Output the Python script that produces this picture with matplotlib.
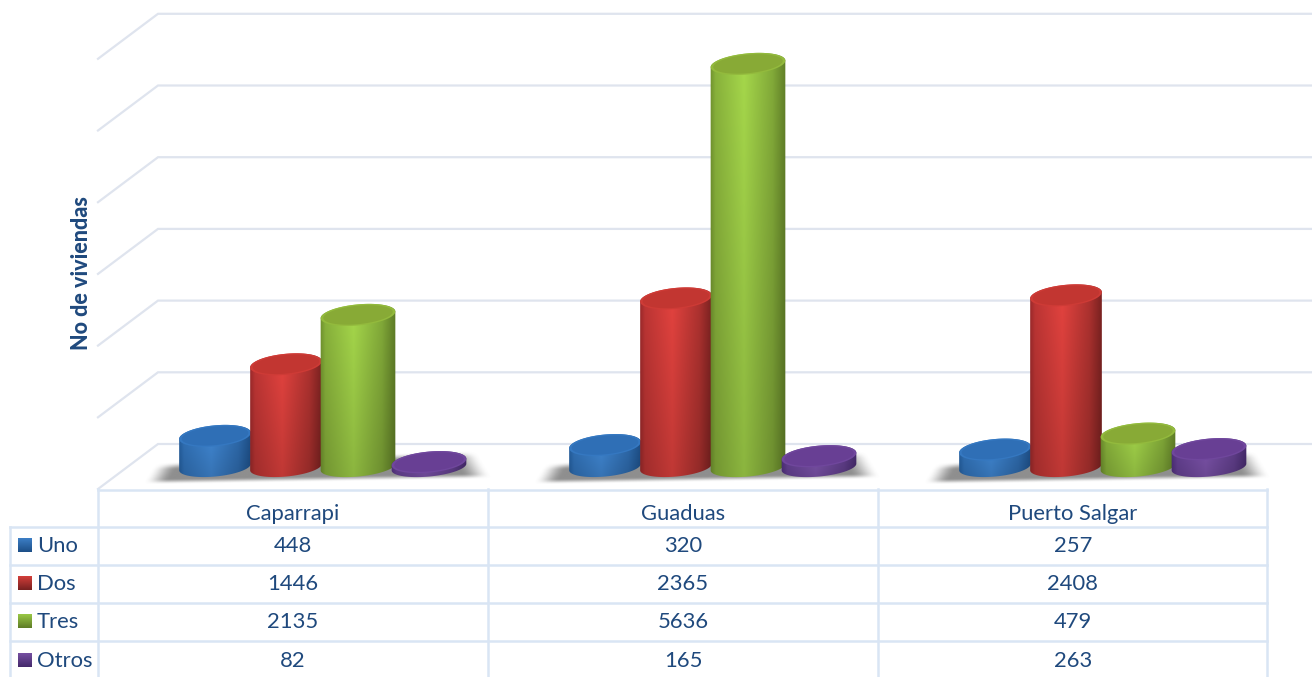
#!/usr/bin/env python3
"""Cylinder chart of dwellings per municipality, with a data table below."""

import numpy as np
import matplotlib
matplotlib.use('Agg')
import matplotlib.pyplot as plt
from matplotlib.colors import to_rgb
from matplotlib.patches import Polygon

municipios = ['Caparrapi', 'Guaduas', 'Puerto Salgar']
series = ['Uno', 'Dos', 'Tres', 'Otros']
uno = [448, 320, 257]
dos = [1446, 2365, 2408]
tres = [2135, 5636, 479]
otros = [82, 165, 263]
grid_values = [0, 1000, 2000, 3000, 4000, 5000, 6000]

TEXT = '#1f497d'
GRID = '#dfe4ee'
TABLE = '#d9e5f4'
# edge, highlight, far edge, top face
PALETTE = [
    ('#235e9f', '#4189d6', '#1d4f88', '#2f6fb6'),
    ('#98282a', '#e4433f', '#782120', '#c23631'),
    ('#6c8d2c', '#a6d84b', '#5f7d27', '#88aa36'),
    ('#50307e', '#7f55ae', '#452a6c', '#683f94'),
]

W, H = 1312, 677
BASE = 468          # pixel row of value 0 on the bar axis
SCALE = 0.0717      # pixels per dwelling
STEP = 390          # pixels between categories
FIRST = 286         # pixel column of the first category's centre


def px_x(p):
    return (np.asarray(p, dtype=float) - FIRST) / STEP


def px_y(p):
    return (BASE - np.asarray(p, dtype=float)) / SCALE


def ellipse(cx, cy, a, b, tilt=-5.5, start=0, stop=360):
    """Tilted ellipse outline in pixel space, returned in data coordinates."""
    t = np.radians(np.linspace(start, stop, 80))
    rot = np.radians(tilt)
    x = a * np.cos(t)
    y = b * np.sin(t)
    xr = cx + x * np.cos(rot) - y * np.sin(rot)
    yr = cy + x * np.sin(rot) + y * np.cos(rot)
    return np.column_stack([px_x(xr), px_y(yr)])


def cylinder(ax, cat, idx, value):
    """One shaded cylinder: gradient side, lit rim and darker top face."""
    edge, bright, far, top = [np.array(to_rgb(c)) for c in PALETTE[idx]]
    offset = [-71, 0, 72, 143][idx]
    cx = FIRST + STEP * cat + offset
    a = 36 if idx < 2 else 37.5
    top_y = BASE - value * SCALE
    base_y = BASE - 1

    # side is the lower half of both ellipses joined up
    lower = ellipse(cx, base_y, a, 9.5, start=0, stop=180)
    upper = ellipse(cx, top_y, a, 10.5, start=180, stop=360)
    clip = Polygon(np.vstack([lower, upper]), closed=True,
                   transform=ax.transData, facecolor='none', edgecolor='none')
    ax.add_patch(clip)

    u = np.linspace(0, 1, 90)
    ramp = np.empty((u.size, 3))
    for c in range(3):
        ramp[:, c] = np.interp(u, [0, 0.08, 0.45, 0.82, 1],
                               [edge[c], (edge[c] + bright[c]) / 2, bright[c],
                                (bright[c] + far[c]) / 2, far[c]])
    fade = np.linspace(1.0, 0.84, 60)[:, None, None]
    img = np.clip(ramp[None, :, :] * fade, 0, 1)
    extent = (px_x(cx - a - 1), px_x(cx + a + 1), px_y(base_y + 11), px_y(top_y - 11))
    im = ax.imshow(img, extent=extent, aspect='auto', zorder=3 + idx * 0.1,
                   interpolation='bilinear')
    im.set_clip_path(clip)

    rim = bright * 0.35 + top * 0.65
    ax.add_patch(Polygon(ellipse(cx, top_y, a, 10.5), closed=True, facecolor=rim,
                         edgecolor='none', zorder=3.01 + idx * 0.1))
    ax.add_patch(Polygon(ellipse(cx, top_y, a * 0.93, 9.2), closed=True, facecolor=top,
                         edgecolor='none', zorder=3.02 + idx * 0.1))


def smooth(v):
    v = np.clip(v, 0, 1)
    return v * v * (3 - 2 * v)


def shadow(ax, cat):
    """Blurred grey slanted shadow on the chart floor, built as an alpha image."""
    left = 142 + STEP * cat
    right = 500 + STEP * cat
    xs = np.linspace(left, right, 240)
    ys = np.linspace(444, 488, 70)
    xx, yy = np.meshgrid(xs, ys)
    t = (xx - left) / (right - left)
    top_edge = 466 - 14 * t
    low_edge = 483 - 6 * t
    slide = (483 - yy) * 0.6
    x_fade = smooth((xx - left - slide) / 26) * smooth((right - 4 - slide - xx) / 30)
    y_fade = smooth((yy - top_edge + 3) / 8) * smooth((low_edge + 2 - yy) / 6)
    rgba = np.zeros(xx.shape + (4,))
    rgba[..., :3] = 0.45
    rgba[..., 3] = 0.8 * x_fade * y_fade
    ax.imshow(rgba, extent=(px_x(left), px_x(right), px_y(488), px_y(444)),
              aspect='auto', zorder=2, interpolation='bilinear')


def swatch(ax, row_y, idx):
    edge, bright, far, top = [np.array(to_rgb(c)) for c in PALETTE[idx]]
    fade = np.linspace(0, 1, 20)[:, None, None]
    img = bright[None, None, :] * (1 - fade) * 0.92 + far[None, None, :] * fade
    ax.imshow(np.clip(img, 0, 1), extent=(px_x(18), px_x(32), px_y(row_y + 7), px_y(row_y - 7)),
              aspect='auto', zorder=4, interpolation='bilinear')


def main():
    plt.rcParams['font.family'] = ['Lato', 'DejaVu Sans']
    fig = plt.figure(figsize=(W / 100, H / 100), dpi=100, facecolor='white')
    ax = fig.add_axes([0, 0, 1, 1])

    # back wall and side wall grid, drawn on the value scale
    back_shift = 24 / SCALE
    side_drop = 45 / SCALE
    for v in grid_values:
        y = v + back_shift
        ax.plot(px_x([98, 158, W]), [y - side_drop, y, y], color=GRID, lw=1.6,
                solid_joinstyle='miter', zorder=1)

    for cat in range(len(municipios)):
        shadow(ax, cat)
    for cat in range(len(municipios)):
        for idx, vals in enumerate([uno, dos, tres, otros]):
            cylinder(ax, cat, idx, vals[cat])

    # data table
    col_x = [98, 488, 878, 1267]
    row_y = [527, 565, 603, 641]
    ax.plot(px_x([98, 1267]), px_y([489.5, 489.5]), color=TABLE, lw=1.8, zorder=1.5)
    for y in row_y:
        ax.plot(px_x([10, 1267]), px_y([y, y]), color=TABLE, lw=1.8, zorder=1.5)
    for x in col_x:
        ax.plot(px_x([x, x]), px_y([489, H]), color=TABLE, lw=1.8, zorder=1.5)
    ax.plot(px_x([10, 10]), px_y([527, H]), color=TABLE, lw=1.8, zorder=1.5)

    fs = 15.8
    centres = [293, 683, 1073]
    for x, name in zip(centres, municipios):
        ax.text(px_x(x), px_y(513.5), name, ha='center', va='center', color=TEXT, fontsize=fs)
    for i, (name, vals) in enumerate(zip(series, [uno, dos, tres, otros])):
        y = 545 + i * 38.2
        swatch(ax, y, i)
        ax.text(px_x(37), px_y(y + 1), name, ha='left', va='center', color=TEXT, fontsize=fs)
        for x, v in zip(centres, vals):
            ax.text(px_x(x), px_y(y + 1), str(v), ha='center', va='center', color=TEXT, fontsize=fs)

    ax.text(px_x(82), px_y(273), 'No de viviendas', rotation=90, ha='center', va='center',
            color=TEXT, fontsize=15.5, fontweight='black')

    ax.set_xlim(px_x(0), px_x(W))
    ax.set_ylim(px_y(H), px_y(0))
    ax.axis('off')
    fig.savefig('out.png', dpi=100, facecolor='white')
    plt.close(fig)


if __name__ == "__main__":
    main()
